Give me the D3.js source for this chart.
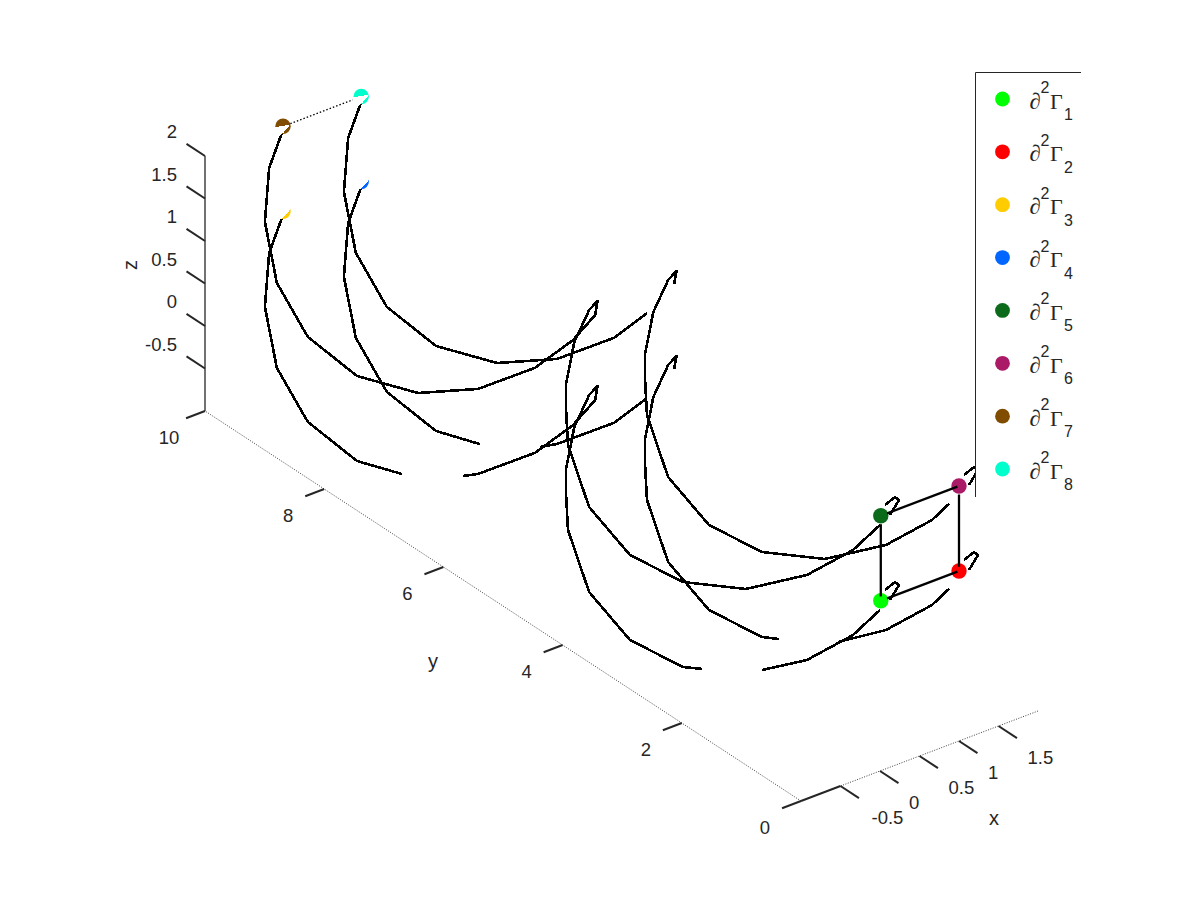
<!DOCTYPE html>
<html>
<head>
<meta charset="utf-8">
<script src="https://cdnjs.cloudflare.com/ajax/libs/d3/7.8.5/d3.min.js"></script>
<style>
html,body{margin:0;padding:0;background:#fff}
text{font-family:"Liberation Sans",Arial,sans-serif;fill:#262626}
</style>
</head>
<body>
<div id="chart"></div>
<script>
// tick values
const xTicks=[-0.5,0,0.5,1,1.5];
const yTicks=[0,2,4,6,8,10];
const zTicks=[-0.5,0,0.5,1,1.5,2];

// corner points: x, y, z
const gammaPoints=[[0.01,0,1],[1,0,1],[0.01,10.03,0.98],[1,10.03,0.98],[0.01,0,2],[1,0,2],[0.01,10.03,1.98],[1,10.03,1.98]];
const gammaColors=['#00ff00','#ff0000','#ffcc00','#0066ff','#0b6b1a','#aa1a66','#804d00','#00ffcc'];
const gammaLabels=['1','2','3','4','5','6','7','8'];

// curves as [y,z], each one at a fixed x
const curveG7G5=[[10.03,1.914],[10.25,1.39],[10.32,0.725],[10.12,0.099],[9.6,-0.298],[8.775,-0.379],[7.75,-0.109],[6.745,0.4],[5.79,1.086],[5.15,1.707],[4.78,2.17],[4.74,2.354],[4.88,2.184],[5.13,1.69],[5.27,1.124],[5.27,0.865],[5.235,0.433],[4.88,-0.134],[4.195,-0.384],[3.305,-0.293],[2.25,0.109],[1.225,0.744],[0.453,1.392],[0,1.894]];
const curveG3a=[[10.03,0.914],[10.25,0.39],[10.32,-0.275],[10.12,-0.901],[9.6,-1.298],[8.775,-1.379],[8.02,-1.186]];
const curveG3b=[[7,-0.741],[6.745,-0.6],[5.79,0.086],[5.15,0.707],[4.78,1.17],[4.74,1.354],[4.88,1.184],[5.13,0.69],[5.27,0.124],[5.27,-0.135],[5.235,-0.567],[4.88,-1.134],[4.195,-1.384],[3.305,-1.293],[2.987,-1.17]];
const curveG1=[[1.98,-0.72],[1.225,-0.256],[0.453,0.392],[0,0.894]];
const curveG8=[[10.03,1.914],[10.25,1.39],[10.32,0.725],[10.12,0.099],[9.6,-0.298],[8.775,-0.379],[7.75,-0.109],[6.745,0.4],[5.79,1.086],[5.235,1.633]];
const curveG6=[[4.78,2.18],[4.74,2.354],[4.88,2.184],[5.13,1.69],[5.27,1.124],[5.27,0.865],[5.235,0.433],[4.88,-0.134],[4.195,-0.384],[3.305,-0.293],[2.25,0.109],[1.225,0.744],[0.453,1.392],[0.168,1.712]];
const curveG4a=[[10.03,0.914],[10.25,0.39],[10.32,-0.275],[10.12,-0.901],[9.6,-1.298],[8.775,-1.379],[8.04,-1.196]];
const curveG4b=[[7.03,-0.767],[6.745,-0.6],[5.79,0.086],[5.235,0.633]];
const curveG2a=[[4.78,1.18],[4.74,1.354],[4.88,1.184],[5.13,0.69],[5.27,0.124],[5.27,-0.135],[5.235,-0.567],[4.88,-1.134],[4.195,-1.384],[3.305,-1.293],[3.02,-1.186]];
const curveG2b=[[2.03,-0.767],[1.225,-0.256],[0.453,0.392],[0.168,0.712]];
const hookUpper=[[-0.084,2.168],[-0.252,2.339],[-0.319,2.334],[-0.168,2.088]];
const hookLower=[[-0.084,1.168],[-0.252,1.339],[-0.319,1.334],[-0.168,1.088]];

const curveTable=[
  [0,curveG7G5],[0,curveG3a],[0,curveG3b],[0,curveG1],
  [1,curveG8],[1,curveG6],[1,curveG4a],[1,curveG4b],[1,curveG2a],[1,curveG2b],
  [0,hookUpper],[0,hookLower],[1,hookUpper],[1,hookLower]
];

// white patches sitting on the far markers
const patchUpper=[[9.9,2.06],[10.2,1.89],[10.2,1.7],[10,1.929]];
const patchLower=[[9.9,1.059],[9.88,1.161],[10.2,1.028],[10.2,0.746],[10,0.929]];
const patchTable=[[0,patchUpper],[1,patchUpper],[0,patchLower],[1,patchLower]];

// edges between corners, drawn over the markers
const solidEdges=[
  [[0.01,0,1.9],[0.01,0,1.05]],
  [[1,0,1.9],[1,0,1.05]],
  [[0.09,0,2],[0.98,0,2]],
  [[0.09,0,1],[0.98,0,1]]
];
const dottedEdge=[[0.08,10,2],[0.87,10,2]];

const W=1200,H=900;
const svg=d3.select('#chart').append('svg').attr('width',W).attr('height',H).style('display','block');

// 3d view: each axis gets its own screen offset
const xToX=d3.scaleLinear().domain([-1,2]).range([801,1038]);
const xToY=d3.scaleLinear().domain([-1,2]).range([801,711]);
const yToX=d3.scaleLinear().domain([0,10]).range([0,-596]);
const yToY=d3.scaleLinear().domain([0,10]).range([0,-390]);
const zToY=d3.scaleLinear().domain([-1,2]).range([0,-255]);
const proj=(x,y,z)=>[xToX(x)+yToX(y),xToY(x)+yToY(y)+zToY(z)];
const line=d3.line();
const ink='#262626';

const axes=svg.append('g');
function seg(a,b,w,dash){
  axes.append('line')
    .attr('x1',proj(...a)[0]).attr('y1',proj(...a)[1])
    .attr('x2',proj(...b)[0]).attr('y2',proj(...b)[1])
    .attr('stroke',dash?'#111':ink).attr('stroke-width',w).attr('stroke-dasharray',dash||null);
}
seg([-1,10,-1],[-1,10,2],1.3);
seg([-1,0,-1],[-1,10,-1],0.8,'1 1.5');
seg([-1,0,-1],[2,0,-1],0.8,'1 1.5');
seg([-1,0,-1],[-0.5,0,-1],2);

const tickLen={x:-0.31,y:-0.24,z:0.31};
xTicks.forEach(t=>{
  seg([t,0,-1],[t,tickLen.x,-1],2);
  const p=proj(t,0,-1);
  axes.append('text').attr('x',p[0]+(t<0?31:29)).attr('y',p[1]+38).attr('font-size',18.5).text(t);
});
yTicks.forEach(t=>{
  seg([-1,t,-1],[-1+tickLen.y,t,-1],2);
  const p=proj(-1,t,-1);
  axes.append('text').attr('x',p[0]-36).attr('y',p[1]+32.5).attr('text-anchor','middle').attr('font-size',18.5).text(t);
});
zTicks.forEach(t=>{
  seg([-1,10,t],[-1,10+tickLen.z,t],2);
  const p=proj(-1,10,t);
  axes.append('text').attr('x',p[0]-28).attr('y',p[1]-18).attr('text-anchor','end').attr('font-size',18.5).text(t);
});
axes.append('text').attr('x',994).attr('y',825).attr('text-anchor','middle').attr('font-size',20).text('x');
axes.append('text').attr('x',433).attr('y',668).attr('text-anchor','middle').attr('font-size',20).text('y');
axes.append('text').attr('transform','translate(137,265) rotate(-90)').attr('text-anchor','middle').attr('font-size',20).text('z');

// curves
svg.append('g').selectAll('path').data(curveTable).join('path')
  .attr('d',d=>line(d[1].map(p=>proj(d[0],p[0],p[1]))))
  .attr('fill','none').attr('stroke','#000').attr('stroke-width',2.6)
  .attr('stroke-linejoin','round').attr('shape-rendering','crispEdges');

// markers
svg.append('g').selectAll('circle').data(gammaPoints).join('circle')
  .attr('cx',d=>proj(...d)[0]).attr('cy',d=>proj(...d)[1]).attr('r',7.7)
  .attr('fill',(d,i)=>gammaColors[i]);

svg.append('g').selectAll('path').data(patchTable).join('path')
  .attr('d',d=>line(d[1].map(p=>proj(d[0],p[0],p[1])))+'Z')
  .attr('fill','#fff').attr('shape-rendering','crispEdges');

svg.append('g').selectAll('path').data(solidEdges).join('path')
  .attr('d',d=>line(d.map(p=>proj(...p))))
  .attr('stroke','#000').attr('stroke-width',2.3);
svg.append('path').attr('d',line(dottedEdge.map(p=>proj(...p))))
  .attr('stroke','#000').attr('stroke-width',1.3).attr('stroke-dasharray','1.5 2');

// legend
const lg=svg.append('g');
lg.append('rect').attr('x',975).attr('y',72).attr('width',106).attr('height',425).attr('fill','#fff');
lg.append('path').attr('d','M975.5,497V72.5H1081').attr('fill','none').attr('stroke',ink).attr('stroke-width',1);
const rowY=d3.scalePoint().domain(gammaLabels).range([99,469]);
const row=lg.selectAll('g.row').data(gammaLabels).join('g').attr('class','row')
  .attr('transform',d=>`translate(0,${rowY(d)})`);
row.append('circle').attr('cx',1002.5).attr('cy',0).attr('r',7.4).attr('fill',(d,i)=>gammaColors[i]);
row.append('text').attr('x',1029.5).attr('y',9.5).attr('font-size',23).style('font-family','"Liberation Serif"').text('∂');
row.append('text').attr('x',1040.5).attr('y',-6).attr('font-size',16).text('2');
row.append('text').attr('x',1050).attr('y',9.5).attr('font-size',22).style('font-family','"Liberation Serif"').text('Γ');
row.append('text').attr('x',1064).attr('y',21).attr('font-size',16).text(d=>d);
</script>
</body>
</html>
